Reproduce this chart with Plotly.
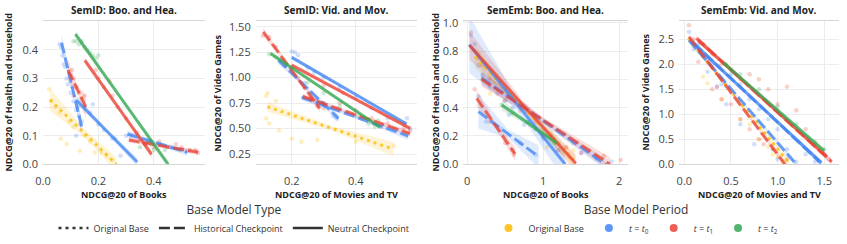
import plotly.graph_objects as go

# ---------------- text ----------------
PANEL_TITLES = ["SemID: Boo. and Hea.", "SemID: Vid. and Mov.", "SemEmb: Boo. and Hea.", "SemEmb: Vid. and Mov."]
X_TITLES = ["NDCG@20 of Books", "NDCG@20 of Movies and TV", "NDCG@20 of Books", "NDCG@20 of Movies and TV"]
Y_TITLES = ["NDCG@20 of Health and Household", "NDCG@20 of Video Games", "NDCG@20 of Health and Household", "NDCG@20 of Video Games"]
PERIODS = ["orig", "t0", "t1", "t2"]
PERIOD_LABELS = ["Original Base", "<i>t</i> = <i>t</i><sub>0</sub>", "<i>t</i> = <i>t</i><sub>1</sub>", "<i>t</i> = <i>t</i><sub>2</sub>"]
TYPES = ["orig", "hist", "neut"]
TYPE_LABELS = ["Original Base", "Historical Checkpoint", "Neutral Checkpoint"]

# ---------------- axis ticks ----------------
X_TICKS = [[0.0, 0.2, 0.4], [0.2, 0.4], [0, 1, 2], [0.0, 0.5, 1.0, 1.5]]
Y_TICKS = [[0.0, 0.1, 0.2, 0.3, 0.4], [0.25, 0.5, 0.75, 1.0, 1.25, 1.5], [0.0, 0.2, 0.4, 0.6, 0.8, 1.0], [0.0, 0.5, 1.0, 1.5, 2.0, 2.5]]
X_FMT = [".1f", ".1f", "d", ".1f"]
Y_FMT = [".1f", ".2f", ".1f", ".1f"]
X_RANGES = [[0.0, 0.585], [0.0875, 0.5925], [-0.05, 2.12], [-0.057, 1.658]]
Y_RANGES = [[0.0, 0.502], [0.149, 1.559], [0.0, 1.014], [0.0, 2.872]]

# ---------------- panel 1: SemID Books / Health ----------------
P1_ORIG_X = [0.022, 0.03, 0.045, 0.06, 0.064, 0.085, 0.095, 0.11, 0.133, 0.15, 0.17, 0.187, 0.21, 0.23, 0.25]
P1_ORIG_Y = [0.262, 0.22, 0.2, 0.18, 0.089, 0.071, 0.15, 0.13, 0.047, 0.1, 0.08, 0.041, 0.04, 0.03, 0.015]
P1_T0_X = [0.06, 0.065, 0.07, 0.075, 0.08, 0.085, 0.09, 0.1, 0.105, 0.11, 0.12, 0.125, 0.13, 0.135, 0.14, 0.12, 0.15, 0.17, 0.18, 0.2, 0.22, 0.25, 0.26, 0.28, 0.3, 0.32, 0.35, 0.38, 0.42, 0.46, 0.5, 0.52]
P1_T0_Y = [0.42, 0.41, 0.38, 0.35, 0.34, 0.3, 0.28, 0.25, 0.27, 0.22, 0.19, 0.2, 0.17, 0.14, 0.15, 0.1, 0.2, 0.18, 0.21, 0.14, 0.12, 0.09, 0.09, 0.03, 0.1, 0.1, 0.09, 0.08, 0.07, 0.06, 0.05, 0.045]
P1_T1_X = [0.1, 0.105, 0.11, 0.12, 0.13, 0.14, 0.15, 0.11, 0.19, 0.2, 0.22, 0.24, 0.25, 0.27, 0.3, 0.34, 0.37, 0.4, 0.42, 0.45, 0.48, 0.5, 0.53, 0.55, 0.56]
P1_T1_Y = [0.31, 0.33, 0.3, 0.27, 0.25, 0.23, 0.24, 0.24, 0.33, 0.3, 0.27, 0.29, 0.24, 0.2, 0.16, 0.11, 0.07, 0.06, 0.08, 0.06, 0.07, 0.06, 0.05, 0.05, 0.04]
P1_T2_X = [0.11, 0.12, 0.13, 0.14, 0.15, 0.16, 0.17, 0.18, 0.19, 0.2, 0.35, 0.37, 0.38, 0.39, 0.4, 0.42, 0.44]
P1_T2_Y = [0.43, 0.43, 0.42, 0.43, 0.41, 0.4, 0.39, 0.38, 0.37, 0.38, 0.06, 0.07, 0.08, 0.07, 0.05, 0.07, 0.05]
P1_FIT_PERIOD = ["orig", "t0", "t0", "t0", "t1", "t1", "t1", "t2"]
P1_FIT_TYPE = ["orig", "hist", "neut", "hist", "hist", "neut", "hist", "neut"]
P1_FIT_X = [[0.025, 0.265], [0.067, 0.14], [0.12, 0.34], [0.305, 0.52], [0.09, 0.155], [0.151, 0.392], [0.31, 0.56], [0.117, 0.452]]
P1_FIT_Y = [[0.226, 0.0], [0.425, 0.13], [0.225, 0.008], [0.106, 0.042], [0.33, 0.2], [0.363, 0.035], [0.085, 0.042], [0.455, 0.0]]
P1_FIT_BAND = [[0.04, 0.014, 0.025], [0.03, 0.012, 0.03], [0.015, 0.007, 0.015], [0.012, 0.006, 0.012], [0.04, 0.015, 0.04], [0.012, 0.006, 0.012], [0.01, 0.005, 0.01], [0.012, 0.006, 0.012]]

# ---------------- panel 2: SemID Video / Movies ----------------
P2_ORIG_X = [0.12, 0.125, 0.12, 0.13, 0.15, 0.16, 0.2, 0.23, 0.28, 0.4, 0.52]
P2_ORIG_Y = [0.82, 0.85, 0.6, 0.55, 0.77, 0.48, 0.4, 0.37, 0.39, 0.37, 0.33]
P2_T0_X = [0.2, 0.21, 0.22, 0.17, 0.18, 0.25, 0.27, 0.3, 0.24, 0.26, 0.3, 0.33, 0.34, 0.35, 0.4, 0.45, 0.5, 0.52, 0.55, 0.56, 0.57, 0.48, 0.28]
P2_T0_Y = [1.26, 1.25, 1.22, 1.15, 1.12, 1.1, 1.05, 1.0, 0.95, 0.85, 0.75, 0.62, 0.6, 0.9, 0.8, 0.7, 0.6, 0.5, 0.55, 0.6, 0.5, 0.52, 0.78]
P2_T1_X = [0.11, 0.13, 0.15, 0.17, 0.2, 0.22, 0.24, 0.26, 0.28, 0.3, 0.35, 0.4, 0.45, 0.5, 0.55, 0.57, 0.3, 0.36]
P2_T1_Y = [1.41, 1.4, 1.3, 1.18, 1.1, 1.0, 0.9, 0.8, 0.72, 0.7, 0.75, 0.68, 0.6, 0.55, 0.5, 0.48, 0.92, 0.85]
P2_T2_X = [0.13, 0.15, 0.18, 0.2, 0.25, 0.3, 0.35, 0.4, 0.42, 0.44, 0.46, 0.47]
P2_T2_Y = [1.23, 1.2, 1.12, 1.1, 0.95, 0.85, 0.72, 0.62, 0.6, 0.55, 0.52, 0.58]
P2_FIT_PERIOD = ["orig", "t0", "t0", "t0", "t1", "t1", "t1", "t2"]
P2_FIT_TYPE = ["orig", "hist", "neut", "hist", "hist", "neut", "hist", "neut"]
P2_FIT_X = [[0.124, 0.518], [0.158, 0.346], [0.2, 0.559], [0.231, 0.564], [0.111, 0.288], [0.2, 0.57], [0.235, 0.57], [0.134, 0.476]]
P2_FIT_Y = [[0.714, 0.299], [1.172, 0.6], [1.199, 0.544], [0.806, 0.427], [1.45, 0.698], [1.123, 0.502], [0.815, 0.45], [1.238, 0.512]]
P2_FIT_BAND = [[0.05, 0.02, 0.07], [0.04, 0.015, 0.04], [0.02, 0.01, 0.02], [0.03, 0.012, 0.04], [0.04, 0.015, 0.04], [0.02, 0.01, 0.02], [0.03, 0.012, 0.03], [0.02, 0.01, 0.02]]

# ---------------- panel 3: SemEmb Books / Health ----------------
P3_ORIG_X = [0.15, 0.2, 0.25, 0.3, 0.35, 0.2, 0.3, 0.9, 1.0, 1.1, 1.2, 1.3, 1.35, 1.4, 1.25, 1.05]
P3_ORIG_Y = [0.78, 0.72, 0.68, 0.62, 0.58, 0.6, 0.5, 0.25, 0.2, 0.22, 0.15, 0.12, 0.05, 0.1, 0.08, 0.12]
P3_T0_X = [0.05, 0.1, 0.15, 0.2, 0.3, 0.5, 0.6, 0.8, 0.9, 1.0, 1.2, 1.5, 1.7, 1.9, 0.15, 0.25, 0.45, 0.7, 0.9, 0.55, 0.75]
P3_T0_Y = [0.91, 0.85, 0.7, 0.63, 0.55, 0.45, 0.4, 0.3, 0.25, 0.18, 0.1, 0.08, 0.04, 0.02, 0.48, 0.3, 0.25, 0.15, 0.07, 0.35, 0.28]
P3_T1_X = [0.05, 0.1, 0.15, 0.2, 0.3, 0.4, 0.5, 0.7, 0.9, 1.1, 1.3, 1.5, 1.7, 1.8, 2.02, 0.1, 0.3, 0.5, 0.6, 0.62, 1.4, 1.2]
P3_T1_Y = [0.93, 0.8, 0.75, 0.7, 0.6, 0.5, 0.45, 0.38, 0.3, 0.2, 0.12, 0.08, 0.05, 0.06, 0.03, 0.53, 0.3, 0.15, 0.1, 0.07, 0.15, 0.1]
P3_T2_X = [0.45, 0.6, 0.8, 1.0, 1.15]
P3_T2_Y = [0.42, 0.36, 0.3, 0.2, 0.15]
P3_FIT_PERIOD = ["orig", "t0", "t0", "t0", "t1", "t1", "t1", "t2"]
P3_FIT_TYPE = ["orig", "neut", "hist", "hist", "neut", "hist", "hist", "neut"]
P3_FIT_X = [[0.1, 1.42], [0.03, 1.29], [0.19, 1.82], [0.149, 0.94], [0.03, 1.43], [0.19, 1.88], [0.127, 0.63], [0.456, 1.18]]
P3_FIT_Y = [[0.76, 0.02], [0.845, 0.0], [0.61, 0.0], [0.372, 0.054], [0.84, 0.005], [0.6, 0.0], [0.466, 0.073], [0.419, 0.148]]
P3_FIT_BAND = [[0.08, 0.02, 0.05], [0.2, 0.04, 0.12], [0.05, 0.02, 0.04], [0.12, 0.03, 0.08], [0.1, 0.03, 0.06], [0.05, 0.02, 0.05], [0.06, 0.02, 0.05], [0.04, 0.015, 0.04]]

# ---------------- panel 4: SemEmb Video / Movies ----------------
P4_ORIG_X = [0.05, 0.1, 0.2, 0.25, 0.4, 0.6, 0.7, 0.8, 0.9, 0.95, 1.0, 1.05]
P4_ORIG_Y = [2.5, 2.4, 1.75, 1.62, 1.3, 0.9, 0.8, 0.5, 0.35, 0.2, 0.15, 0.05]
P4_T0_X = [0.05, 0.1, 0.15, 0.2, 0.3, 0.4, 0.5, 0.6, 0.7, 0.8, 0.9, 1.0, 1.1, 1.2, 1.3, 1.4, 1.45, 0.25, 0.45, 0.6, 0.75, 0.95, 1.0, 0.35]
P4_T0_Y = [2.65, 2.3, 2.4, 2.2, 2.0, 1.6, 1.8, 1.6, 1.3, 1.1, 0.9, 0.7, 0.3, 0.05, 0.2, 0.05, 0.05, 1.85, 1.2, 0.8, 0.4, 0.3, 0.1, 1.55]
P4_T1_X = [0.05, 0.1, 0.2, 0.3, 0.4, 0.5, 0.6, 0.7, 0.8, 0.9, 1.0, 1.1, 1.2, 1.3, 1.4, 1.5, 1.55, 0.15, 0.3, 0.35, 0.5, 0.7, 0.8, 0.85, 0.95, 1.1, 0.4, 0.6]
P4_T1_Y = [2.78, 2.5, 2.4, 2.2, 2.0, 1.9, 1.7, 1.8, 1.7, 1.5, 1.2, 1.55, 1.08, 0.7, 0.4, 0.2, 0.1, 2.05, 1.5, 1.55, 1.2, 0.7, 0.5, 0.4, 0.3, 0.1, 1.3, 0.9]
P4_T2_X = [0.45, 0.6, 0.8, 1.0, 1.2, 1.4, 1.5]
P4_T2_Y = [2.0, 1.8, 1.5, 1.15, 0.8, 0.45, 0.3]
P4_FIT_PERIOD = ["orig", "t0", "t0", "t0", "t1", "t1", "t1", "t2"]
P4_FIT_TYPE = ["orig", "neut", "hist", "hist", "neut", "hist", "hist", "neut"]
P4_FIT_X = [[0.05, 1.12], [0.08, 1.47], [0.05, 1.2], [0.1, 1.45], [0.15, 1.53], [0.13, 1.58], [0.05, 1.08], [0.42, 1.5]]
P4_FIT_Y = [[2.5, 0.03], [2.45, 0.03], [2.48, 0.0], [2.42, 0.05], [2.48, 0.15], [2.52, 0.05], [2.55, 0.0], [2.03, 0.27]]
P4_FIT_BAND = [[0.08, 0.03, 0.08], [0.06, 0.02, 0.06], [0.06, 0.02, 0.06], [0.06, 0.02, 0.06], [0.06, 0.02, 0.06], [0.06, 0.02, 0.06], [0.06, 0.02, 0.06], [0.05, 0.02, 0.05]]

# ---------------- styling ----------------
RGB = {"orig": (251, 188, 4), "t0": (66, 133, 244), "t1": (234, 67, 53), "t2": (52, 168, 83)}
DASH = {"orig": "3px,4px", "hist": "11px,4px", "neut": "solid"}
FONT = "Open Sans"
W, H = 847, 244
PLOT_PX_X = [(43, 205), (255.7, 417.3), (463.3, 628.3), (679, 839)]
PLOT_PX_Y = (20.7, 164.3)
YTITLE_PX = [8, 217, 435, 645]


def rgba(p, a):
    r, g, b = RGB[p]
    return f"rgba({r},{g},{b},{a})"


panels = [
    (dict(orig=(P1_ORIG_X, P1_ORIG_Y), t0=(P1_T0_X, P1_T0_Y), t1=(P1_T1_X, P1_T1_Y), t2=(P1_T2_X, P1_T2_Y)),
     P1_FIT_PERIOD, P1_FIT_TYPE, P1_FIT_X, P1_FIT_Y, P1_FIT_BAND),
    (dict(orig=(P2_ORIG_X, P2_ORIG_Y), t0=(P2_T0_X, P2_T0_Y), t1=(P2_T1_X, P2_T1_Y), t2=(P2_T2_X, P2_T2_Y)),
     P2_FIT_PERIOD, P2_FIT_TYPE, P2_FIT_X, P2_FIT_Y, P2_FIT_BAND),
    (dict(orig=(P3_ORIG_X, P3_ORIG_Y), t0=(P3_T0_X, P3_T0_Y), t1=(P3_T1_X, P3_T1_Y), t2=(P3_T2_X, P3_T2_Y)),
     P3_FIT_PERIOD, P3_FIT_TYPE, P3_FIT_X, P3_FIT_Y, P3_FIT_BAND),
    (dict(orig=(P4_ORIG_X, P4_ORIG_Y), t0=(P4_T0_X, P4_T0_Y), t1=(P4_T1_X, P4_T1_Y), t2=(P4_T2_X, P4_T2_Y)),
     P4_FIT_PERIOD, P4_FIT_TYPE, P4_FIT_X, P4_FIT_Y, P4_FIT_BAND),
]

fig = go.Figure()

for i, (pts, fper, ftyp, fx, fy, fband) in enumerate(panels):
    xa = "x" if i == 0 else f"x{i+1}"
    ya = "y" if i == 0 else f"y{i+1}"
    # scatter points
    for p in PERIODS:
        xs, ys = pts[p]
        fig.add_trace(go.Scatter(x=xs, y=ys, mode="markers", xaxis=xa, yaxis=ya, showlegend=False,
                                 marker=dict(size=4.5, color=rgba(p, 0.25), line=dict(width=0)), hoverinfo="skip"))
    # confidence bands
    for per, (x0, x1), (y0, y1), (b0, bm, b1) in zip(fper, fx, fy, fband):
        xm, ym = (x0 + x1) / 2, (y0 + y1) / 2
        bx = [x0, xm, x1, x1, xm, x0, x0]
        by = [y0 + b0, ym + bm, y1 + b1, y1 - b1, ym - bm, y0 - b0, y0 + b0]
        fig.add_trace(go.Scatter(x=bx, y=by, mode="lines", fill="toself", fillcolor=rgba(per, 0.17),
                                 line=dict(width=0), xaxis=xa, yaxis=ya, showlegend=False, hoverinfo="skip"))
    # regression lines
    for per, typ, xs, ys in zip(fper, ftyp, fx, fy):
        fig.add_trace(go.Scatter(x=xs, y=ys, mode="lines", xaxis=xa, yaxis=ya, showlegend=False,
                                 line=dict(color=rgba(per, 0.78), width=3, dash=DASH[typ]), hoverinfo="skip"))

# legend entries
for typ, lab in zip(TYPES, TYPE_LABELS):
    fig.add_trace(go.Scatter(x=[None], y=[None], mode="lines", name=lab, legend="legend",
                             line=dict(color="#333333", width=2.5, dash=DASH[typ])))
for per, lab in zip(PERIODS, PERIOD_LABELS):
    fig.add_trace(go.Scatter(x=[None], y=[None], mode="markers", name=lab, legend="legend2",
                             marker=dict(color=rgba(per, 0.85), size=8)))

y0p = 1 - PLOT_PX_Y[1] / H
y1p = 1 - PLOT_PX_Y[0] / H
annotations = []
layout_axes = {}
for i in range(4):
    sx = "" if i == 0 else str(i + 1)
    (l, r) = PLOT_PX_X[i]
    layout_axes[f"xaxis{sx}"] = dict(
        domain=[l / W, r / W], range=X_RANGES[i], tickvals=X_TICKS[i], tickformat=X_FMT[i],
        anchor="y" + sx, showgrid=True, gridcolor="#ececec", gridwidth=1, zeroline=False,
        showline=True, linecolor="#d6d6d6", linewidth=1, mirror=True, ticks="", automargin=False,
        ticklabelstandoff=6, tickfont=dict(family=FONT, size=11, color="#444444"))
    layout_axes[f"yaxis{sx}"] = dict(
        domain=[y0p, y1p], range=Y_RANGES[i], tickvals=Y_TICKS[i], tickformat=Y_FMT[i],
        anchor="x" + sx, showgrid=True, gridcolor="#ececec", gridwidth=1, zeroline=False,
        showline=False, ticks="", ticklabelstandoff=4, automargin=False,
        tickfont=dict(family=FONT, size=11, color="#444444"))
    cx = (l + r) / 2 / W
    annotations.append(dict(text=f"<b>{PANEL_TITLES[i]}</b>", x=cx, y=1 - 10 / H, xref="paper", yref="paper",
                            showarrow=False, xanchor="center", yanchor="middle",
                            font=dict(family=FONT, size=10, color="#222222")))
    annotations.append(dict(text=f"<b>{X_TITLES[i]}</b>", x=cx, y=1 - 194 / H, xref="paper", yref="paper",
                            showarrow=False, xanchor="center", yanchor="middle",
                            font=dict(family=FONT, size=9, color="#222222")))
    annotations.append(dict(text=f"<b>{Y_TITLES[i]}</b>", x=YTITLE_PX[i] / W, y=(y0p + y1p) / 2,
                            xref="paper", yref="paper", showarrow=False, textangle=-90,
                            xanchor="center", yanchor="middle",
                            font=dict(family=FONT, size=9, color="#222222")))

fig.update_layout(
    template="none",
    width=W, height=H, margin=dict(l=0, r=0, t=0, b=0, autoexpand=False),
    paper_bgcolor="white", plot_bgcolor="white",
    annotations=annotations,
    legend=dict(title=dict(text="Base Model Type", side="top center", font=dict(family=FONT, size=12, color="#333")),
                orientation="h", x=234 / W, xanchor="center", y=1 - 198 / H, yanchor="top",
                font=dict(family=FONT, size=9, color="#333"), bgcolor="rgba(0,0,0,0)"),
    legend2=dict(title=dict(text="Base Model Period", side="top center", font=dict(family=FONT, size=12, color="#333")),
                 orientation="h", x=636 / W, xanchor="center", y=1 - 198 / H, yanchor="top",
                 font=dict(family=FONT, size=9, color="#333"), bgcolor="rgba(0,0,0,0)"),
    **layout_axes,
)

fig.write_html("out.html", config={"displayModeBar": False},
               post_script="document.body.style.margin='0';document.body.style.overflow='hidden';")
